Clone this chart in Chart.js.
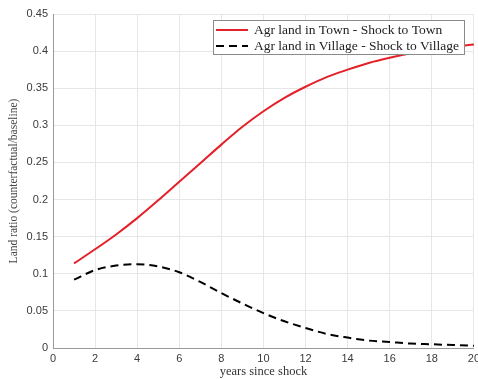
<!DOCTYPE html>
<html><head><meta charset="utf-8">
<script src="https://cdn.jsdelivr.net/npm/chart.js@4.4.1/dist/chart.umd.min.js"></script>
<style>
html,body{margin:0;padding:0;background:#fff;overflow:hidden;}
#wrap{position:relative;width:484px;height:379px;}
</style></head>
<body><div id="wrap"><canvas id="c"></canvas></div>
<script>
const years = [1,2,3,4,5,6,7,8,9,10,11,12,13,14,15,16,17,18,19,20];
const townShock = [0.114,0.133,0.153,0.175,0.199,0.224,0.249,0.274,0.298,0.319,0.337,0.352,0.365,0.375,0.384,0.391,0.397,0.402,0.406,0.409];
const villageShock = [0.092,0.105,0.111,0.113,0.110,0.102,0.089,0.074,0.060,0.047,0.036,0.027,0.019,0.014,0.010,0.008,0.006,0.005,0.004,0.003];
const seriesLabels = ['Agr land in Town - Shock to Town','Agr land in Village - Shock to Village'];
const xTicks = [0,2,4,6,8,10,12,14,16,18,20];
const yTicks = [0,0.05,0.1,0.15,0.2,0.25,0.3,0.35,0.4,0.45];
const xTitle = 'years since shock';
const yTitle = 'Land ratio (counterfactual/baseline)';

const serif = "'Liberation Serif','DejaVu Serif',serif";
const sans = "'Liberation Sans',Arial,sans-serif";

const legendPlugin = {
  id:'boxLegend',
  afterDatasetsDraw(chart){
    const ctx = chart.ctx;
    const x0 = 213, y0 = 20, w = 251, h = 34;
    ctx.save();
    ctx.fillStyle = '#fff';
    ctx.fillRect(x0,y0,w,h);
    ctx.strokeStyle = '#8a8a8a';
    ctx.lineWidth = 1;
    ctx.strokeRect(x0+0.5,y0+0.5,w,h);
    ctx.font = "13.5px " + serif;
    ctx.textBaseline = 'middle';
    chart.data.datasets.forEach((ds,i)=>{
      const yy = y0 + 10 + i*16;
      ctx.strokeStyle = ds.borderColor;
      ctx.lineWidth = 2;
      ctx.setLineDash(ds.borderDash || []);
      ctx.beginPath(); ctx.moveTo(x0+3,yy); ctx.lineTo(x0+35,yy); ctx.stroke();
      ctx.setLineDash([]);
      ctx.fillStyle = '#222';
      ctx.fillText(ds.label, x0+41, yy);
    });
    ctx.restore();
  }
};

new Chart(document.getElementById('c'),{
  type:'line',
  data:{
    datasets:[
      {label:seriesLabels[0], data:years.map((x,i)=>({x, y:townShock[i]})), borderColor:'rgb(228,32,40)', borderWidth:2, pointRadius:0, cubicInterpolationMode:'monotone', fill:false},
      {label:seriesLabels[1], data:years.map((x,i)=>({x, y:villageShock[i]})), borderColor:'#000', borderWidth:2, borderDash:[8,5], pointRadius:0, cubicInterpolationMode:'monotone', fill:false}
    ]
  },
  options:{
    responsive:true, maintainAspectRatio:false, animation:false,
    layout:{padding:{top:14,right:4,left:0,bottom:0}},
    plugins:{legend:{display:false}, tooltip:{enabled:false}},
    scales:{
      x:{type:'linear', min:0, max:20,
        afterBuildTicks(s){ s.ticks = xTicks.map(v=>({value:v})); },
        afterFit(s){ s.height = 31; },
        grid:{color:'#e6e6e6', drawTicks:false},
        border:{color:'#999'},
        ticks:{padding:4, color:'#3a3a3a', font:{family:sans, size:11}, maxRotation:0},
        title:{display:true, text:xTitle, color:'#333', font:{family:serif, size:12.5}, padding:{top:0,bottom:0}}
      },
      y:{type:'linear', min:0, max:0.45,
        afterBuildTicks(s){ s.ticks = yTicks.map(v=>({value:v})); },
        afterFit(s){ s.width = 53; },
        grid:{color:'#e6e6e6', drawTicks:false},
        border:{color:'#999'},
        ticks:{padding:5, color:'#3a3a3a', font:{family:sans, size:11}, callback:v=>String(+v.toFixed(2))},
        title:{display:true, text:yTitle, color:'#444', font:{family:serif, size:11.5}, padding:{top:7,bottom:0}}
      }
    }
  },
  plugins:[legendPlugin]
});
</script></body></html>
